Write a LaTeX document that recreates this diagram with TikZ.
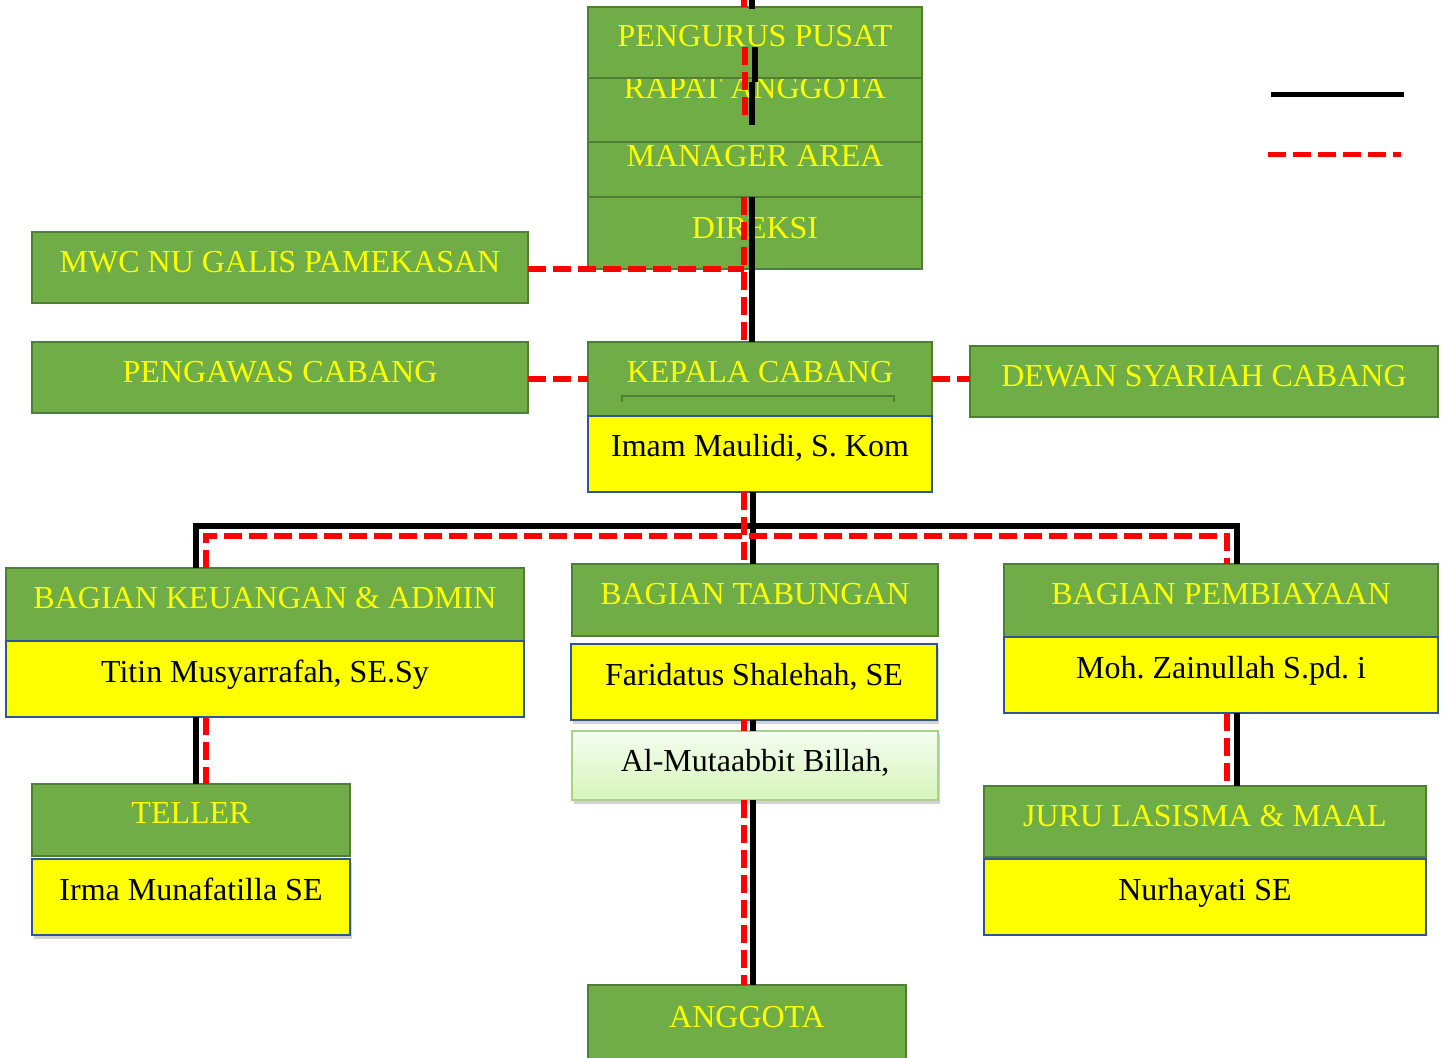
\documentclass[tikz,border=0pt]{standalone}
\usepackage{fontspec}
\setmainfont{Liberation Serif}
\frenchspacing
\usetikzlibrary{shadows}
\definecolor{gfill}{HTML}{70AD47}
\definecolor{gline}{HTML}{507E32}
\definecolor{yfill}{HTML}{FFFF00}
\definecolor{bline}{HTML}{2F5597}
\definecolor{ltop}{HTML}{F4FDEF}
\definecolor{lbot}{HTML}{D6F5BA}
\definecolor{lline}{HTML}{A9D18E}
\definecolor{rdash}{HTML}{FF0000}
\tikzset{
  gbox/.style={draw=gline, line width=2.5pt, fill=gfill, rectangle, inner sep=0pt, outer sep=0pt, anchor=north west},
  ybox/.style={draw=bline, line width=2.5pt, fill=yfill, rectangle, inner sep=0pt, outer sep=0pt, anchor=north west},
  lbox/.style={draw=lline, line width=2pt, top color=ltop, bottom color=lbot, rectangle, inner sep=0pt, outer sep=0pt, anchor=north west},
  shad/.style={drop shadow={opacity=0.35, shadow xshift=2pt, shadow yshift=-4pt}},
  gtxt/.style={inner sep=0pt, anchor=base, text=yfill, font=\fontsize{32}{38}\selectfont},
  ktxt/.style={inner sep=0pt, anchor=base, text=black, font=\fontsize{32}{38}\selectfont},
  blk/.style={draw=black, line width=5.5pt},
  rdl/.style={draw=rdash, line width=5.5pt, dash pattern=on 18pt off 7pt},
  brk/.style={draw=gline, line width=1.5pt}
}
\begin{document}
\begin{tikzpicture}[x=1pt,y=-1pt]
\useasboundingbox (0,0) rectangle (1445,1057);
\fill[white] (0,0) rectangle (1445,1057);
% top column
\node[gbox, minimum width=334, minimum height=64] (ra) at (588,78) {};
\node[gtxt] (t-ra) at (755,98) {RAPAT ANGGOTA};
\node[gbox, minimum width=334, minimum height=71] (pp) at (588,7) {};
\node[gtxt] (t-pp) at (755,47) {PENGURUS PUSAT};
\node[gbox, minimum width=334, minimum height=55] (ma) at (588,142) {};
\node[gtxt] (t-ma) at (755,166) {MANAGER AREA};
\node[gbox, minimum width=334, minimum height=72] (di) at (588,197) {};
\node[gtxt] (t-di) at (755,238) {DIREKSI};
% side boxes
\node[gbox, minimum width=496, minimum height=71] (mwc) at (32,232) {};
\node[gtxt] (t-mwc) at (280,272) {MWC NU GALIS PAMEKASAN};
\node[gbox, minimum width=496, minimum height=71] (pw) at (32,342) {};
\node[gtxt] (t-pw) at (280,382) {PENGAWAS CABANG};
\node[gbox, minimum width=344, minimum height=74] (kc) at (588,342) {};
\node[gtxt] (t-kc) at (760,382) {KEPALA CABANG};
\draw[brk] (622,402) -- (622,396) -- (894,396) -- (894,402);
\node[ybox, minimum width=344, minimum height=76] (kcy) at (588,416) {};
\node[ktxt] (t-kcy) at (760,456) {Imam Maulidi, S. Kom};
\node[gbox, minimum width=468, minimum height=71] (ds) at (970,346) {};
\node[gtxt] (t-ds) at (1204,386) {DEWAN SYARIAH CABANG};
% second level
\node[gbox, minimum width=518, minimum height=73] (ku) at (6,568) {};
\node[gtxt] (t-ku) at (265,608) {BAGIAN KEUANGAN \& ADMIN};
\node[ybox, minimum width=518, minimum height=76] (kuy) at (6,641) {};
\node[ktxt] (t-kuy) at (265,682) {Titin Musyarrafah, SE.Sy};
\node[gbox, minimum width=366, minimum height=72] (tb) at (572,564) {};
\node[gtxt] (t-tb) at (755,604) {BAGIAN TABUNGAN};
\node[ybox, shad, minimum width=366, minimum height=76] (tby) at (571,644) {};
\node[ktxt] (t-tby) at (754,685) {Faridatus Shalehah, SE};
\node[lbox, shad, minimum width=366, minimum height=69] (am) at (572,731) {};
\node[ktxt] (t-am) at (755,771) {Al-Mutaabbit Billah,};
\node[gbox, minimum width=434, minimum height=73] (pb) at (1004,564) {};
\node[gtxt] (t-pb) at (1221,604) {BAGIAN PEMBIAYAAN};
\node[ybox, minimum width=434, minimum height=76] (pby) at (1004,637) {};
\node[ktxt] (t-pby) at (1221,678) {Moh. Zainullah S.pd. i};
% third level
\node[gbox, minimum width=318, minimum height=72] (tl) at (32,784) {};
\node[gtxt] (t-tl) at (191,823) {TELLER};
\node[ybox, shad, minimum width=318, minimum height=76] (tly) at (32,859) {};
\node[ktxt] (t-tly) at (191,900) {Irma Munafatilla SE};
\node[gbox, minimum width=442, minimum height=71] (jl) at (984,786) {};
\node[gtxt] (t-jl) at (1205,826) {JURU LASISMA \& MAAL};
\node[ybox, minimum width=442, minimum height=76] (jly) at (984,859) {};
\node[ktxt] (t-jly) at (1205,900) {Nurhayati SE};
\node[gbox, minimum width=318, minimum height=90] (ag) at (588,985) {};
\node[gtxt] (t-ag) at (747,1027) {ANGGOTA};
% column coordinates
\coordinate (xb) at (752,0);
\coordinate (xr) at (744,0);
\coordinate (xb2) at (753,0);
\coordinate (a1) at (755,47);
\coordinate (a2) at (755,82);
\coordinate (a3) at (752,82);
\coordinate (a4) at (752,125);
\coordinate (r1) at (745,47);
\coordinate (r2) at (745,120);
\coordinate (hb) at (0,526);
\coordinate (hr) at (0,536);
\coordinate (lb) at (196,0);
\coordinate (lr) at (206,0);
\coordinate (rb) at (1237,0);
\coordinate (rr) at (1227,0);
% black connectors
\draw[blk] (xb) -- ([yshift=-2pt]pp.north -| xb);
\draw[blk] (a1) -- (a2);
\draw[blk] (a3) -- (a4);
\draw[blk] (di.north -| xb) -- (kc.north -| xb);
\draw[blk] (kcy.south -| xb2) -- (tb.north -| xb2);
\draw[blk] (tby.south -| xb2) -- (am.north -| xb2);
\draw[blk] (am.south -| xb2) -- (ag.north -| xb2);
\draw[blk] (ku.north -| lb) -- (hb -| lb) -- (hb -| rb) -- (pb.north -| rb);
\draw[blk] (kuy.south -| lb) -- (tl.north -| lb);
\draw[blk] (pby.south -| rb) -- (jl.north -| rb);
% red dashed connectors
\draw[rdl] (xr) -- (pp.north -| xr);
\draw[rdl] (r1) -- (r2);
\draw[rdl] (di.north -| xr) -- (kc.north -| xr);
\draw[rdl] ([yshift=-1.5pt]mwc.east) -- ([yshift=-1.5pt]mwc.east -| xr);
\draw[rdl] (kc.west -| pw.east) -- (kc.west);
\draw[rdl] (kc.east) -- (kc.east -| ds.west);
\draw[rdl] (kcy.south -| xr) -- (tb.north -| xr);
\draw[rdl] (tby.south -| xr) -- (am.north -| xr);
\draw[rdl] (am.south -| xr) -- (ag.north -| xr);
\draw[rdl] (ku.north -| lr) -- (hr -| lr) -- (hr -| rr) -- (pb.north -| rr);
\draw[rdl] (kuy.south -| lr) -- (tl.north -| lr);
\draw[rdl] (pby.south -| rr) -- (jl.north -| rr);
% legend
\coordinate (lg1) at (1271,94);
\coordinate (lg2) at (1404,94);
\coordinate (lg3) at (1268,154);
\coordinate (lg4) at (1401,154);
\draw[blk, line width=5pt] (lg1) -- (lg2);
\draw[rdl, line width=5pt] (lg3) -- (lg4);
\end{tikzpicture}
\end{document}
